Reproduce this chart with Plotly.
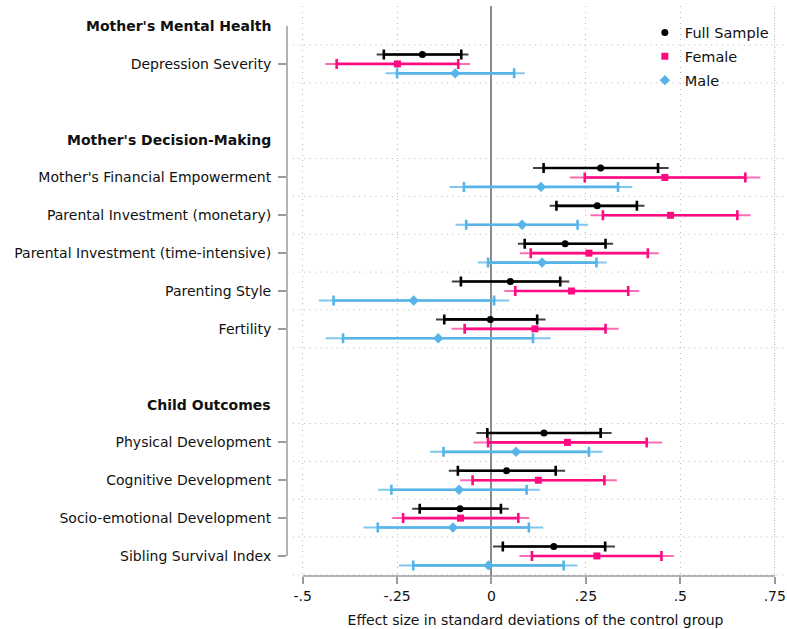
import plotly.graph_objects as go

# ---------------- data ----------------
group_names = ["Mother's Mental Health", "Mother's Decision-Making", "Child Outcomes"]
group_items = [
    ["Depression Severity"],
    ["Mother's Financial Empowerment", "Parental Investment (monetary)",
     "Parental Investment (time-intensive)", "Parenting Style", "Fertility"],
    ["Physical Development", "Cognitive Development",
     "Socio-emotional Development", "Sibling Survival Index"],
]

series_names = ["Full Sample", "Female", "Male"]

full_coef = [-0.183, 0.289, 0.280, 0.195, 0.050, -0.003, 0.139, 0.040, -0.083, 0.165]
full_lo90 = [-0.285, 0.138, 0.172, 0.088, -0.081, -0.125, -0.011, -0.089, -0.190, 0.030]
full_hi90 = [-0.080, 0.441, 0.385, 0.302, 0.182, 0.121, 0.289, 0.170, 0.025, 0.301]
full_lo95 = [-0.304, 0.110, 0.154, 0.070, -0.105, -0.147, -0.040, -0.113, -0.210, 0.004]
full_hi95 = [-0.061, 0.469, 0.405, 0.322, 0.206, 0.143, 0.318, 0.195, 0.046, 0.327]

fem_coef = [-0.249, 0.459, 0.474, 0.258, 0.212, 0.115, 0.201, 0.124, -0.082, 0.279]
fem_lo90 = [-0.410, 0.247, 0.295, 0.104, 0.063, -0.071, -0.009, -0.050, -0.234, 0.107]
fem_hi90 = [-0.088, 0.672, 0.651, 0.414, 0.362, 0.302, 0.411, 0.299, 0.071, 0.450]
fem_lo95 = [-0.440, 0.207, 0.262, 0.075, 0.034, -0.106, -0.048, -0.083, -0.263, 0.074]
fem_hi95 = [-0.057, 0.712, 0.686, 0.443, 0.391, 0.337, 0.452, 0.332, 0.100, 0.483]

male_coef = [-0.096, 0.131, 0.081, 0.134, -0.206, -0.141, 0.065, -0.086, -0.102, -0.008]
male_lo90 = [-0.250, -0.073, -0.067, -0.009, -0.418, -0.393, -0.127, -0.265, -0.301, -0.207]
male_hi90 = [0.060, 0.335, 0.228, 0.278, 0.007, 0.110, 0.258, 0.093, 0.099, 0.191]
male_lo95 = [-0.280, -0.111, -0.095, -0.036, -0.457, -0.439, -0.163, -0.300, -0.339, -0.245]
male_hi95 = [0.088, 0.373, 0.256, 0.305, 0.047, 0.157, 0.294, 0.128, 0.137, 0.228]

x_tickvals = [-0.5, -0.25, 0, 0.25, 0.5, 0.75]
x_ticktext = ["-.5", "-.25", "0", ".25", ".5", ".75"]
x_title = "Effect size in standard deviations of the control group"

# ---------------- styling ----------------
colors = ["#000000", "#FF0A80", "#56B4E9"]
faded = ["rgba(0,0,0,0.75)", "rgba(255,10,128,0.6)", "rgba(86,180,233,0.75)"]
symbols = ["circle", "square", "diamond"]
msizes = [7, 7, 8]
offsets = [-0.25, 0.0, 0.25]
FONT = "DejaVu Sans"
GRAY = "#9a9a9a"
GRID = "#b8b8b8"
DOTS = "1px,4.5px"
FS = 14

# ---------------- row layout ----------------
header_rows = []
item_rows = []
item_labels = []
r = 0
for gname, items in zip(group_names, group_items):
    header_rows.append(r)
    for it in items:
        r += 1
        item_rows.append(r)
        item_labels.append(it)
    r += 2
last_row = item_rows[-1]

series_data = [
    (full_coef, full_lo90, full_hi90, full_lo95, full_hi95),
    (fem_coef, fem_lo90, fem_hi90, fem_lo95, fem_hi95),
    (male_coef, male_lo90, male_hi90, male_lo95, male_hi95),
]

fig = go.Figure()

# outer (95%) thin lines
for i, (coef, lo90, hi90, lo95, hi95) in enumerate(series_data):
    ys = [row + offsets[i] for row in item_rows]
    fig.add_trace(go.Scatter(
        x=coef, y=ys, mode="markers",
        marker=dict(size=1, opacity=0, color=colors[i]),
        error_x=dict(type="data", symmetric=False,
                     array=[h - c for h, c in zip(hi95, coef)],
                     arrayminus=[c - l for c, l in zip(coef, lo95)],
                     color=faded[i], thickness=2, width=0),
        showlegend=False, hoverinfo="skip",
    ))

# inner (90%) thick lines with caps + markers
for i, (coef, lo90, hi90, lo95, hi95) in enumerate(series_data):
    ys = [row + offsets[i] for row in item_rows]
    fig.add_trace(go.Scatter(
        x=coef, y=ys, mode="markers", name=series_names[i],
        marker=dict(size=msizes[i], symbol=symbols[i], color=colors[i],
                    line=dict(width=0)),
        error_x=dict(type="data", symmetric=False,
                     array=[h - c for h, c in zip(hi90, coef)],
                     arrayminus=[c - l for c, l in zip(coef, lo90)],
                     color=colors[i], thickness=2.6, width=5),
        legendgroup=series_names[i],
    ))

shapes = []
# horizontal dotted gridlines between rows
grid_rows = set()
for row in item_rows:
    grid_rows.add(row - 0.5)
    grid_rows.add(row + 0.5)
for g in sorted(grid_rows):
    shapes.append(dict(type="line", xref="paper", x0=0.012, x1=1, yref="y", y0=g, y1=g,
                       line=dict(color=GRID, width=1, dash=DOTS), layer="below"))
# vertical dotted gridline at the last tick (kept explicitly)
shapes.append(dict(type="line", xref="x", x0=x_tickvals[-1], x1=x_tickvals[-1],
                   yref="paper", y0=0, y1=1,
                   line=dict(color=GRID, width=1, dash=DOTS), layer="below"))
# y axis line (from first header row to last item)
shapes.append(dict(type="line", xref="paper", x0=0, x1=0, yref="y",
                   y0=header_rows[0], y1=last_row,
                   line=dict(color=GRAY, width=1.5)))
# x axis line (from first to last tick)
shapes.append(dict(type="line", xref="x", x0=x_tickvals[0], x1=x_tickvals[-1],
                   yref="paper", y0=0, y1=0, line=dict(color=GRAY, width=1.5)))

annotations = []
for gname, hr in zip(group_names, header_rows):
    annotations.append(dict(text="<b>" + gname + "</b>", xref="paper", x=0, xshift=-14,
                            xanchor="right", yref="y", y=hr, yanchor="middle",
                            showarrow=False, font=dict(family=FONT, size=FS, color="#111")))

fig.update_layout(
    width=787, height=629,
    margin=dict(l=287, r=1, t=6, b=53),
    paper_bgcolor="white", plot_bgcolor="white",
    font=dict(family=FONT, size=FS, color="#111"),
    shapes=shapes, annotations=annotations,
    legend=dict(x=0.72, y=0.9815, xanchor="left", yanchor="top",
                bgcolor="rgba(0,0,0,0)", font=dict(family=FONT, size=14.5, color="#111"),
                tracegroupgap=2, traceorder="grouped"),
    xaxis=dict(range=[-0.5414, 0.7745], tickvals=x_tickvals, ticktext=x_ticktext,
               showgrid=True, gridcolor=GRID, griddash=DOTS, gridwidth=1,
               zeroline=True, zerolinecolor="#8a8a8a", zerolinewidth=2,
               showline=False, ticks="outside", ticklen=7, tickwidth=1.5, tickcolor=GRAY,
               ticklabeloverflow="allow",
               tickfont=dict(family=FONT, size=FS, color="#111"),
               title=dict(text=x_title, font=dict(family=FONT, size=FS, color="#111"), standoff=12)),
    yaxis=dict(range=[14.53, -0.53], tickvals=item_rows, ticktext=item_labels,
               showgrid=False, zeroline=False, showline=False,
               ticks="outside", ticklen=8, tickwidth=1.5, tickcolor=GRAY,
               ticklabelstandoff=4,
               tickfont=dict(family=FONT, size=FS, color="#111")),
)

fig.write_html("out.html", config={"displayModeBar": False},
               post_script="document.body.style.margin='0';document.body.style.overflow='hidden';")
